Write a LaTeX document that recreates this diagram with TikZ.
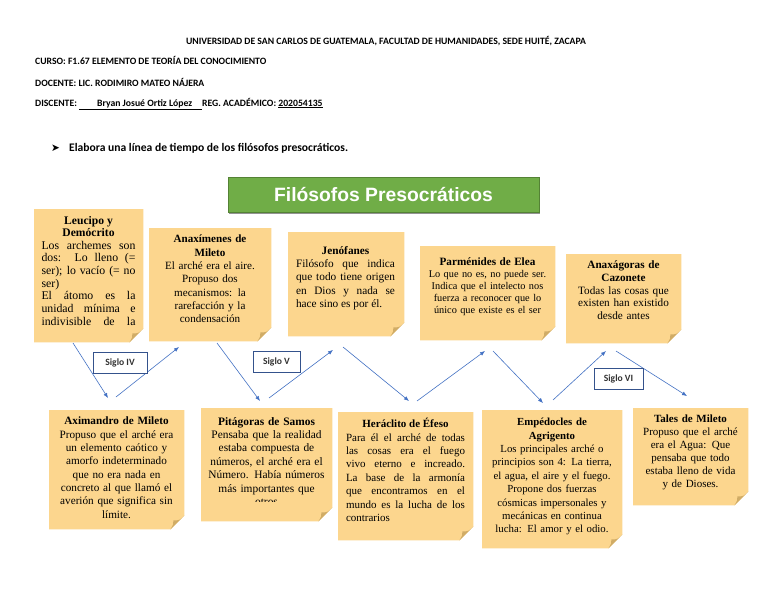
\documentclass[tikz,border=0pt]{standalone}
\usepackage{fontspec}
\setmainfont{Liberation Serif}
\newfontfamily\carl{Carlito}
\newfontfamily\arialf{Liberation Sans}
\newfontfamily\dejav{DejaVu Sans}
\usetikzlibrary{arrows.meta,shadows}
\definecolor{notefill}{RGB}{252,214,142}
\definecolor{foldfill}{RGB}{208,172,102}
\definecolor{arrowblue}{RGB}{68,114,196}
\definecolor{sigloline}{RGB}{52,82,140}
\definecolor{titlegreen}{RGB}{112,173,71}
\definecolor{titleline}{RGB}{84,130,53}
\newcommand\stickynote[5]{%
  \node[notebox, minimum width=#4pt, minimum height=#5pt, anchor=north west] (#1) at (#2,#3) {};
  \fill[notefill] (#1.north west) -- (#1.north east) -- ([yshift=14pt]#1.south east)
    -- ([xshift=-14pt]#1.south east) -- (#1.south west) -- cycle;
  \fill[foldfill] ([yshift=14pt]#1.south east)
    .. controls ([xshift=-5pt,yshift=9pt]#1.south east) .. ([xshift=-11pt,yshift=9pt]#1.south east)
    .. controls ([xshift=-11pt,yshift=5pt]#1.south east) .. ([xshift=-14pt]#1.south east) -- cycle;
}
\begin{document}
\begin{tikzpicture}[x=1pt,y=-1pt,
  notebox/.style={rectangle, draw=none, inner sep=0pt},
  notetext/.style={anchor=north, inner sep=0pt, font=\fontsize{11.2}{13.3}\selectfont},
  hdr/.style={inner sep=0pt, font=\carl\bfseries\fontsize{9.7}{11}\selectfont},
  siglo/.style={rectangle, draw=sigloline, line width=0.8pt, fill=white, minimum width=54pt,
    minimum height=21pt, inner sep=0pt, font=\carl\bfseries\fontsize{9.6}{11}\selectfont, text=black!80},
  conn/.style={draw=arrowblue, line width=0.6pt, -{Latex[length=5pt,width=4pt]}},
  titlebar/.style={rectangle, fill=titlegreen, draw=titleline, line width=0.6pt, minimum width=311pt,
    minimum height=35pt, inner sep=0pt, text=white, font=\arialf\bfseries\fontsize{19.3}{22}\selectfont,
    drop shadow={shadow xshift=1pt, shadow yshift=-2pt, fill=black!60, opacity=0.7}}
]
\useasboundingbox (0,0) rectangle (768,594);
\fill[white] (0,0) rectangle (768,594);

% header
\node[hdr, anchor=base] (h1) at (386,45) {UNIVERSIDAD DE SAN CARLOS DE GUATEMALA, FACULTAD DE HUMANIDADES, SEDE HUITÉ, ZACAPA};
\node[hdr, anchor=base west] (h2) at (35,65) {CURSO: F1.67 ELEMENTO DE TEORÍA DEL CONOCIMIENTO};
\node[hdr, anchor=base west] (h3) at (35,86) {DOCENTE: LIC. RODIMIRO MATEO NÁJERA};
\node[hdr, anchor=base west] (h4) at (35,106) {DISCENTE: \underline{\hspace{18pt}Bryan Josué Ortiz López\hspace{10pt}}REG. ACADÉMICO: \underline{202054135}};
\node[inner sep=0pt, anchor=base west, font=\dejav\fontsize{10.5}{12}\selectfont] (bul) at (51,151) {➤};
\node[hdr, anchor=base west, font=\carl\bfseries\fontsize{11.6}{13}\selectfont] (task) at (69,151) {Elabora una línea de tiempo de los filósofos presocráticos.};

% title
\node[titlebar] (title) at (383.5,194.5) {Filósofos Presocráticos};

% connectors
\coordinate (a1s) at (73,343);  \coordinate (a1e) at (108,398);
\coordinate (a2s) at (116,397); \coordinate (a2e) at (179,347);
\coordinate (a3s) at (217,343); \coordinate (a3e) at (260,401);
\coordinate (a4s) at (269,398); \coordinate (a4e) at (333,350);
\coordinate (a5s) at (343,347); \coordinate (a5e) at (409,401);
\coordinate (a6s) at (417,401); \coordinate (a6e) at (485,351);
\coordinate (a7s) at (493,351); \coordinate (a7e) at (543,403);
\coordinate (a8s) at (553,400); \coordinate (a8e) at (606,351);
\coordinate (a9s) at (616,351); \coordinate (a9e) at (687,396);
\foreach \i in {1,...,9} { \draw[conn] (a\i s) -- (a\i e); }

% siglo labels
\node[siglo, minimum width=54pt] (s4) at (120,362.5) {Siglo IV};
\node[siglo, minimum width=47pt] (s5) at (276.5,362) {Siglo V};
\node[siglo, minimum width=49pt] (s6) at (618.5,379) {Siglo VI};

% top row notes
\stickynote{leu}{34}{209}{109}{133}
\begin{scope}
\clip (34,209) rectangle (143,326);
\node[notetext, text width=94pt, align=justify, font=\fontsize{11.8}{12.7}\selectfont] (leut) at (88.5,216) {%
{\centering\bfseries\fontsize{11.6}{12.2}\selectfont Leucipo y\\Demócrito\par}
Los archemes son\linebreak dos:\ \ Lo lleno (=\linebreak ser); lo vacío (= no\linebreak ser)\par
{\parfillskip=0pt El átomo es la\linebreak unidad mínima e\linebreak indivisible de la\par}};
\end{scope}

\stickynote{anm}{149}{228}{122}{113}
\node[notetext, text width=118pt, align=center, font=\fontsize{11.1}{13.3}\selectfont] (anmt) at (210,235) {%
{\bfseries Anaxímenes de\\Mileto}\\El arché era el aire.\\Propuso dos\\mecanismos: la\\rarefacción y la\\condensación};

\stickynote{jen}{288}{232}{116}{104}
\node[notetext, text width=99pt, align=justify, font=\fontsize{11.3}{13.3}\selectfont] (jent) at (345.5,246) {%
{\centering\bfseries Jenófanes\par}
Filósofo que indica\linebreak que todo tiene origen\linebreak en Dios y nada se\linebreak hace sino es por él.};

\stickynote{par}{420}{246}{135}{94}
\node[notetext, text width=132pt, align=center, font=\fontsize{10.3}{11.8}\selectfont] (part) at (487.5,258) {%
{\bfseries\fontsize{11.2}{13}\selectfont Parménides de Elea}\\Lo que no es, no puede ser.\\Indica que el intelecto nos\\fuerza a reconocer que lo\\único que existe es el ser};

\stickynote{anx}{566}{254}{115}{89}
\node[notetext, text width=112pt, align=center, font=\fontsize{11.2}{12.6}\selectfont] (anxt) at (623.5,261) {%
{\bfseries Anaxágoras de\\Cazonete}\\Todas las cosas que\\existen han existido\\desde antes};

% bottom row notes
\stickynote{axi}{49}{410}{135}{119}
\node[notetext, text width=132pt, align=center] (axit) at (116.5,417) {%
{\bfseries Aximandro de Mileto}\\Propuso que el arché era\\un elemento caótico y\\amorfo indeterminado\\que no era nada en\\concreto al que llamó el\\averión que significa sin\\límite.};

\stickynote{pit}{201}{408}{131}{113}
\begin{scope}
\clip (201,408) rectangle (332,501);
\node[notetext, text width=128pt, align=center, font=\fontsize{11.4}{13.4}\selectfont] (pitt) at (266.5,417) {%
{\bfseries Pitágoras de Samos}\\Pensaba que la realidad\\estaba compuesta de\\números, el arché era el\\Número. Había números\\más importantes que\\otros};
\end{scope}

\stickynote{her}{338}{412}{135}{128}
\node[notetext, text width=119pt, align=justify, font=\fontsize{11}{13.4}\selectfont] (hert) at (405.5,418) {%
{\centering\bfseries Heráclito de Éfeso\par}
Para él el arché de todas\linebreak las cosas era el fuego\linebreak vivo eterno e increado.\linebreak La base de la armonía\linebreak que encontramos en el\linebreak mundo es la lucha de los\linebreak contrarios};

\stickynote{emp}{482}{410}{140}{138}
\node[notetext, text width=138pt, align=center, font=\fontsize{10.8}{13.4}\selectfont] (empt) at (552,418) {%
{\bfseries Empédocles de\\Agrigento}\\Los principales arché o\\principios son 4: La tierra,\\el agua, el aire y el fuego.\\Propone dos fuerzas\\cósmicas impersonales y\\mecánicas en continua\\lucha: El amor y el odio.};

\stickynote{tal}{633}{408}{115}{97}
\node[notetext, text width=114pt, align=center, font=\fontsize{11}{13}\selectfont] (talt) at (690.5,415) {%
{\bfseries Tales de Mileto}\\Propuso que el arché\\era el Agua: Que\\pensaba que todo\\estaba lleno de vida\\y de Dioses.};
\end{tikzpicture}
\end{document}
